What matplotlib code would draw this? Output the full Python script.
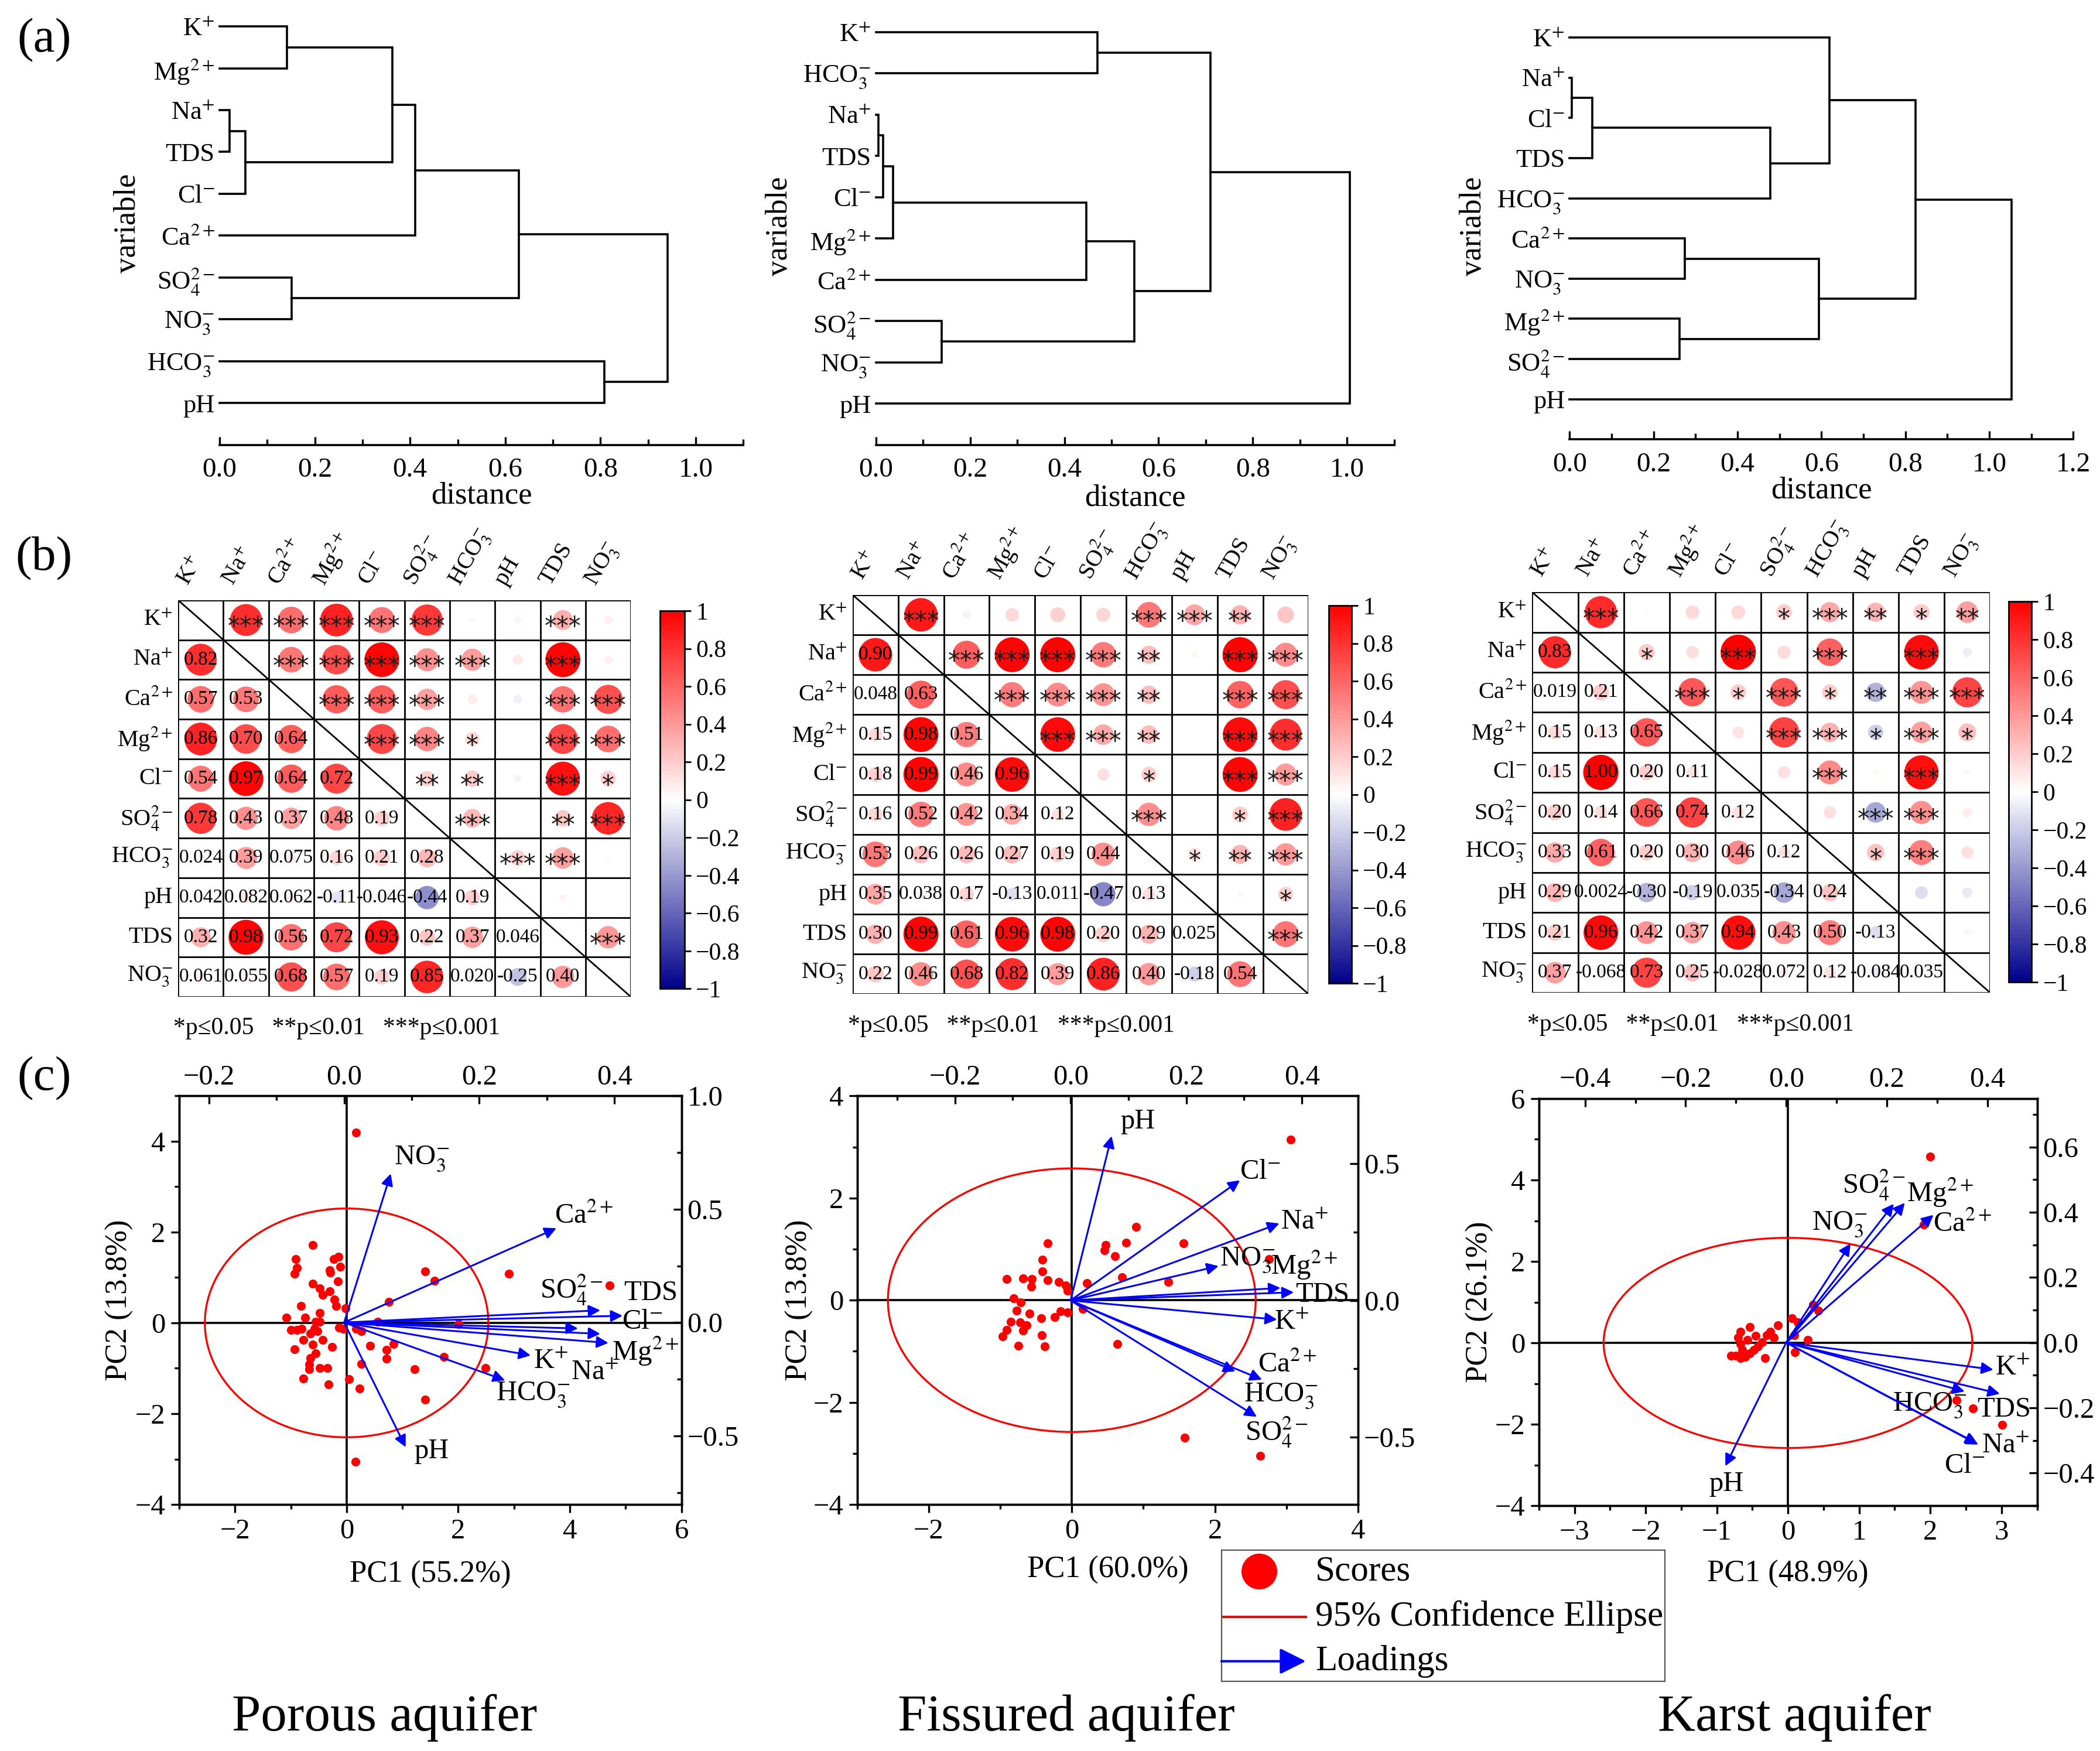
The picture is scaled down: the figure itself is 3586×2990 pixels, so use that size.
import numpy as np
import matplotlib
matplotlib.use('Agg')
import matplotlib.pyplot as plt
from matplotlib.colors import LinearSegmentedColormap, Normalize
from matplotlib.cm import ScalarMappable
from matplotlib.patches import Ellipse
from matplotlib.ticker import MultipleLocator, FuncFormatter

plt.rcParams['font.family'] = ['Liberation Serif', 'DejaVu Serif']
plt.rcParams['mathtext.fontset'] = 'stix'
plt.rcParams['axes.linewidth'] = 1.2

# ---------------- variables ----------------
variables = ['K', 'Na', 'Ca', 'Mg', 'Cl', 'SO4', 'HCO3', 'pH', 'TDS', 'NO3']
tex = {'K': r'K$^{+}$', 'Na': r'Na$^{+}$', 'Ca': r'Ca$^{2+}$', 'Mg': r'Mg$^{2+}$',
       'Cl': r'Cl$^{-}$', 'SO4': r'SO$_{4}^{2-}$', 'HCO3': r'HCO$_{3}^{-}$',
       'pH': 'pH', 'TDS': 'TDS', 'NO3': r'NO$_{3}^{-}$'}

# ---------------- (a) cluster trees: leaf order, merges (a, b, distance) ----------------
porous_leaves = ['K', 'Mg', 'Na', 'TDS', 'Cl', 'Ca', 'SO4', 'NO3', 'HCO3', 'pH']
porous_merges = [(2, 3, 0.021), (10, 4, 0.054), (0, 1, 0.141), (6, 7, 0.151),
                 (12, 11, 0.363), (14, 5, 0.411), (15, 13, 0.629), (8, 9, 0.808),
                 (16, 17, 0.941)]
fissured_leaves = ['K', 'HCO3', 'Na', 'TDS', 'Cl', 'Mg', 'Ca', 'SO4', 'NO3', 'pH']
fissured_merges = [(2, 3, 0.005), (10, 4, 0.015), (11, 5, 0.037), (7, 8, 0.140),
                   (12, 6, 0.447), (0, 1, 0.470), (14, 13, 0.549), (15, 16, 0.710),
                   (17, 9, 1.006)]
karst_leaves = ['K', 'Na', 'Cl', 'TDS', 'HCO3', 'Ca', 'NO3', 'Mg', 'SO4', 'pH']
karst_merges = [(1, 2, 0.005), (10, 3, 0.054), (7, 8, 0.262), (5, 6, 0.275),
                (11, 4, 0.478), (13, 12, 0.594), (0, 14, 0.619), (16, 15, 0.824),
                (17, 9, 1.053)]

# ---------------- (b) correlations: lower triangle r, upper triangle stars ----------------
porous_r = [
    [],
    [0.82],
    [0.57, 0.53],
    [0.86, 0.70, 0.64],
    [0.54, 0.97, 0.64, 0.72],
    [0.78, 0.43, 0.37, 0.48, 0.19],
    [0.024, 0.39, 0.075, 0.16, 0.21, 0.28],
    [0.042, 0.082, 0.062, -0.11, -0.046, -0.44, 0.19],
    [0.32, 0.98, 0.56, 0.72, 0.93, 0.22, 0.37, 0.046],
    [0.061, 0.055, 0.68, 0.57, 0.19, 0.85, 0.020, -0.25, 0.40],
]
porous_stars = [
    [3, 3, 3, 3, 3, 0, 0, 3, 0],
    [3, 3, 3, 3, 3, 0, 3, 0],
    [3, 3, 3, 0, 0, 3, 3],
    [3, 3, 1, 0, 3, 3],
    [2, 2, 0, 3, 1],
    [3, 0, 2, 3],
    [3, 3, 0],
    [0, 0],
    [3],
]
# upper-triangle circles that differ from the lower triangle (row, col, r)
porous_upper = [('Ca', 'pH', -0.06), ('Mg', 'pH', 0.0), ('SO4', 'pH', 0.0), ('pH', 'NO3', 0.0)]

fissured_r = [
    [],
    [0.90],
    [0.048, 0.63],
    [0.15, 0.98, 0.51],
    [0.18, 0.99, 0.46, 0.96],
    [0.16, 0.52, 0.42, 0.34, 0.12],
    [0.53, 0.26, 0.26, 0.27, 0.19, 0.44],
    [0.35, 0.038, 0.17, -0.13, 0.011, -0.47, 0.13],
    [0.30, 0.99, 0.61, 0.96, 0.98, 0.20, 0.29, 0.025],
    [0.22, 0.46, 0.68, 0.82, 0.39, 0.86, 0.40, -0.18, 0.54],
]
fissured_stars = [
    [3, 0, 0, 0, 0, 3, 3, 2, 0],
    [3, 3, 3, 3, 2, 0, 3, 3],
    [3, 3, 3, 2, 0, 3, 3],
    [3, 3, 2, 0, 3, 3],
    [0, 1, 0, 3, 3],
    [3, 0, 1, 3],
    [1, 2, 3],
    [0, 1],
    [3],
]
fissured_upper = [('Ca', 'pH', 0.0), ('Mg', 'pH', 0.0), ('SO4', 'pH', 0.0), ('pH', 'NO3', 0.18)]

karst_r = [
    [],
    [0.83],
    [0.019, 0.21],
    [0.15, 0.13, 0.65],
    [0.15, 1.00, 0.20, 0.11],
    [0.20, 0.14, 0.66, 0.74, 0.12],
    [0.33, 0.61, 0.20, 0.30, 0.46, 0.12],
    [0.29, 0.0024, -0.30, -0.19, 0.035, -0.34, 0.24],
    [0.21, 0.96, 0.42, 0.37, 0.94, 0.43, 0.50, -0.13],
    [0.37, -0.068, 0.73, 0.25, -0.028, 0.072, 0.12, -0.084, 0.035],
]
karst_stars = [
    [3, 0, 0, 0, 1, 3, 2, 1, 2],
    [1, 0, 3, 0, 3, 0, 3, 0],
    [3, 1, 3, 1, 2, 3, 3],
    [0, 3, 3, 1, 3, 1],
    [0, 3, 0, 3, 0],
    [0, 3, 3, 0],
    [1, 3, 0],
    [0, 0],
    [0],
]
karst_upper = []

# ---------------- (c) PCA: scores, loadings (order = variables), ellipse semi-axes ----------------
porous_pc1 = [0.17, -0.61, -0.91, -0.89, -0.93, -0.23, -0.15, -0.11, -0.30, -0.29, -0.61,
              -0.48, -0.43, -0.16, -0.30, -0.22, -0.19, -0.02, -0.82, -0.48, -1.08, -0.74,
              -1.00, -0.89, -0.81, -0.56, -0.48, -0.58, -0.52, -0.65, -0.43, -0.78, -0.93,
              -0.61, -0.26, -0.56, -0.65, -0.67, -0.67, -0.48, -0.35, -0.77, -0.32, -0.13,
              -0.06, 0.17, 0.26, 0.56, 0.76, 1.41, 1.58, 2.91, 4.71, 2.01, 0.42, 0.84,
              0.72, 0.71, 0.26, 0.04, 0.23, 1.22, 1.74, 2.49, 1.41, 0.16]
porous_pc2 = [4.19, 1.71, 1.41, 1.21, 1.08, 1.41, 1.46, 1.24, 1.16, 1.11, 0.86,
              0.76, 0.62, 0.91, 0.69, 0.52, 0.37, 0.32, 0.37, 0.22, 0.12, 0.12,
              -0.15, -0.15, -0.13, 0.02, 0.02, -0.13, -0.18, -0.23, -0.38, -0.38, -0.58,
              -0.48, -0.53, -0.67, -0.77, -0.92, -1.02, -0.99, -0.99, -1.22, -1.35, -0.10,
              -0.13, -0.13, -0.18, 0.02, 0.47, 1.14, 0.93, 1.08, 0.83, -0.03, -0.51, -0.46,
              -0.60, -0.79, -0.90, -1.24, -1.44, -1.02, -0.75, -0.99, -1.69, -3.06]
porous_load1 = [0.276, 0.379, 0.314, 0.391, 0.346, 0.379, 0.238, 0.091, 0.412, 0.069]
porous_load2 = [-0.145, -0.050, 0.416, -0.090, -0.026, 0.054, -0.255, -0.550, 0.030, 0.657]
porous_ellipse = [2.54, 2.52]

fissured_pc1 = [3.06, 0.90, 1.56, 0.76, 0.47, 0.46, 0.60, 2.76, 0.70, 1.35, 0.21,
                -0.34, -0.41, -0.41, -0.34, -0.91, -0.68, -0.56, -0.57, -0.18, -0.08, -0.06,
                -0.81, -0.71, -0.77, -0.59, -0.85, -0.72, -0.63, -0.68, -0.43, -0.24, -0.16,
                -0.06, 0.15, -0.91, -0.97, -0.42, -0.75, -0.38, 0.64, 1.58, 2.63]
fissured_pc2 = [3.14, 1.43, 1.11, 1.13, 1.08, 0.98, 0.86, 0.81, 0.45, 0.36, 0.34,
                1.11, 0.79, 0.56, 0.39, 0.41, 0.43, 0.41, 0.27, 0.36, 0.29, 0.19,
                0.04, -0.04, -0.20, -0.26, -0.42, -0.43, -0.49, -0.59, -0.35, -0.33, -0.22,
                -0.24, -0.17, -0.58, -0.71, -0.68, -0.89, -0.90, -0.86, -2.69, -3.05]
fissured_load1 = [0.357, 0.361, 0.285, 0.363, 0.293, 0.322, 0.331, 0.071, 0.386, 0.256]
fissured_load2 = [-0.070, 0.282, -0.260, 0.046, 0.440, -0.426, -0.290, 0.602, 0.030, 0.126]
fissured_ellipse = [2.57, 2.58]

karst_pc1 = [2.00, 1.91, 0.35, 0.43, 0.06, 0.14, 0.09, 0.28, 0.10, -0.14, -0.25,
             -0.30, -0.54, -0.67, -0.36, -0.42, -0.48, -0.54, -0.67, -0.64, -0.73, -0.80,
             -0.60, -0.67, -0.32, -0.57, -0.70, 2.37, 2.60, 3.01, -0.45, -0.20]
karst_pc2 = [4.58, 2.91, 0.94, 0.80, 0.61, 0.50, 0.19, 0.08, -0.23, 0.43, 0.28,
             0.19, 0.39, 0.28, 0.02, -0.09, -0.17, -0.26, -0.03, -0.17, -0.31, -0.31,
             -0.34, -0.37, -0.37, 0.08, 0.13, -1.40, -1.61, -2.01, 0.17, 0.13]
karst_load1 = [0.412, 0.382, 0.293, 0.236, 0.380, 0.214, 0.355, -0.121, 0.425, 0.128]
karst_load2 = [-0.083, -0.313, 0.392, 0.429, -0.310, 0.426, -0.150, -0.379, -0.157, 0.304]
karst_ellipse = [2.59, 2.58]

# loading label placement (score units)
porous_labpos = {'NO3': (1.34, 3.61), 'Ca': (4.25, 2.35), 'SO4': (4.03, 0.73), 'TDS': (5.45, 0.66),
                 'Cl': (5.3, 0.03), 'Mg': (5.35, -0.62), 'K': (3.66, -0.85), 'Na': (4.45, -1.1),
                 'HCO3': (3.34, -1.59), 'pH': (1.52, -2.83)}
fissured_labpos = {'pH': (0.92, 3.50), 'Cl': (2.63, 2.51), 'Na': (3.25, 1.53), 'NO3': (2.45, 0.78),
                   'Mg': (3.25, 0.69), 'TDS': (3.50, 0.10), 'K': (3.07, -0.43), 'Ca': (3.01, -1.26),
                   'HCO3': (2.92, -1.88), 'SO4': (2.86, -2.59)}
karst_labpos = {'NO3': (0.72, 2.91), 'SO4': (1.21, 3.88), 'Mg': (2.14, 3.69), 'Ca': (2.45, 2.91),
                'K': (3.16, -0.61), 'HCO3': (1.99, -1.53), 'TDS': (3.04, -1.64), 'Na': (3.06, -2.53),
                'Cl': (2.48, -3.01), 'pH': (-0.87, -3.46)}

# ---------------- layout helpers ----------------
W, H = 1568.0, 1307.0


def rect(x0, y0, x1, y1):
    return [x0 / W, 1 - y1 / H, (x1 - x0) / W, (y1 - y0) / H]


fig = plt.figure(figsize=(17.93, 14.95), dpi=200)
cmap = LinearSegmentedColormap.from_list('bwr2', ['#00008B', '#FFFFFF', '#FF0000'])
norm = Normalize(-1, 1)


def dec1(v, p=None):
    if abs(v) < 1e-9:
        v = 0.0
    return f'{v:.1f}'.replace('-', '\u2212')


def draw_tree(r, leaves, merges, xmax, ylab_x, xlab_y):
    ax = fig.add_axes(r)
    n = len(leaves)
    pos = {i: float(i) for i in range(n)}
    hgt = {i: 0.0 for i in range(n)}
    k = n
    for a, b, h in merges:
        ax.plot([hgt[a], h, h, hgt[b]], [pos[a], pos[a], pos[b], pos[b]],
                color='black', lw=1.3, clip_on=False, solid_joinstyle='miter')
        pos[k] = (pos[a] + pos[b]) / 2
        hgt[k] = h
        k += 1
    ax.set_xlim(0, xmax)
    ax.set_ylim(n, -0.6)
    ax.set_yticks(range(n))
    ax.set_yticklabels([tex[v] for v in leaves])
    ax.tick_params(axis='y', length=0, pad=3, labelsize=16)
    for s in ['left', 'right', 'top']:
        ax.spines[s].set_visible(False)
    ax.spines['bottom'].set_linewidth(1.3)
    ax.xaxis.set_major_locator(MultipleLocator(0.2))
    ax.xaxis.set_minor_locator(MultipleLocator(0.1))
    ax.xaxis.set_major_formatter(FuncFormatter(dec1))
    ax.tick_params(axis='x', which='major', direction='in', length=5, width=1.2, labelsize=17, pad=8)
    ax.tick_params(axis='x', which='minor', direction='in', length=3.5, width=1.2)
    ax.set_ylabel('variable', fontsize=19, va='center')
    ax.yaxis.set_label_coords(ylab_x, 0.5)
    ax.set_xlabel('distance', fontsize=19, va='center')
    ax.xaxis.set_label_coords(0.5, xlab_y)


def rfmt(v):
    a = abs(v)
    if a >= 0.1:
        return f'{v:.2f}'
    d = int(-np.floor(np.log10(a))) + 1
    return f'{v:.{d}f}'


def cbfmt(v, p=None):
    if abs(v) < 1e-9:
        return '0'
    if abs(abs(v) - 1) < 1e-9:
        return ('\u22121' if v < 0 else '1')
    return dec1(v)


def draw_corr(r, cr, lower, stars, upper_fix):
    ax = fig.add_axes(r)
    n = len(variables)
    R = np.eye(n)
    for i, row in enumerate(lower):
        for j, v in enumerate(row):
            R[i, j] = R[j, i] = v
    for a, b, v in upper_fix:
        R[variables.index(a), variables.index(b)] = v
    S = np.zeros((n, n), dtype=int)
    for i, row in enumerate(stars):
        for k, s in enumerate(row):
            S[i, i + 1 + k] = s
    ii, jj = np.meshgrid(np.arange(n), np.arange(n), indexing='ij')
    off = ii != jj
    ax.scatter(jj[off] + 0.5, ii[off] + 0.5, s=470 * np.abs(R[off]), c=R[off],
               cmap=cmap, norm=norm, linewidths=0, zorder=2)
    for i in range(n):
        for j in range(n):
            if i > j:
                ax.text(j + 0.5, i + 0.5, rfmt(R[i, j]), ha='center', va='center',
                        fontsize=12, zorder=3)
            elif j > i and S[i, j] > 0:
                ax.text(j + 0.5, i + 0.68, '*' * S[i, j], ha='center', va='center',
                        fontsize=15, family='DejaVu Sans', zorder=3, color='#1a1a1a')
    ax.hlines(np.arange(n + 1), 0, n, color='black', lw=1.0, zorder=4)
    ax.vlines(np.arange(n + 1), 0, n, color='black', lw=1.0, zorder=4)
    ax.plot([0, n], [0, n], color='black', lw=1.0, zorder=4)
    for i, v in enumerate(variables):
        ax.text(-0.12, i + 0.5, tex[v], ha='right', va='center', fontsize=14.5)
        ax.text(i + 0.22, -0.35, tex[v], rotation=60, ha='left', va='baseline',
                rotation_mode='anchor', fontsize=14.5)
    ax.text(-0.1, n + 0.8, '*p≤0.05   **p≤0.01   ***p≤0.001',
            ha='left', va='center', fontsize=15)
    ax.set_xlim(0, n)
    ax.set_ylim(n, 0)
    ax.axis('off')
    cax = fig.add_axes(cr)
    cb = fig.colorbar(ScalarMappable(norm=norm, cmap=cmap), cax=cax,
                      ticks=np.linspace(-1, 1, 11))
    cb.ax.yaxis.set_major_formatter(FuncFormatter(cbfmt))
    cb.ax.tick_params(labelsize=15, length=4, width=1.0, pad=3)
    cb.outline.set_linewidth(1.0)


def draw_pca(r, pc1, pc2, l1, l2, ell, labpos, xlim, ylim, lxlim, lylim,
             xstep, ystep, lxstep, lystep, xlabel, ylabel, ylab_x, xlab_y):
    ax = fig.add_axes(r)
    ax.axhline(0, color='black', lw=1.3, zorder=1)
    ax.axvline(0, color='black', lw=1.3, zorder=1)
    ax.add_patch(Ellipse((0, 0), 2 * ell[0], 2 * ell[1], fill=False, edgecolor='red', lw=1.2, zorder=2))
    ax.scatter(pc1, pc2, s=30, color='red', linewidths=0, zorder=3)
    ax.set_xlim(*xlim)
    ax.set_ylim(*ylim)
    ax.xaxis.set_major_locator(MultipleLocator(xstep))
    ax.xaxis.set_minor_locator(MultipleLocator(xstep / 2))
    ax.yaxis.set_major_locator(MultipleLocator(ystep))
    ax.yaxis.set_minor_locator(MultipleLocator(ystep / 2))
    ax.tick_params(which='major', direction='out', length=5, width=1.2, labelsize=17.5)
    ax.tick_params(which='minor', direction='out', length=3, width=1.2)
    for v in variables:
        ax.text(labpos[v][0], labpos[v][1], tex[v], ha='center', va='center', fontsize=17.5, zorder=5)
    ax.set_xlabel(xlabel, fontsize=19, va='center')
    ax.xaxis.set_label_coords(0.5, xlab_y)
    ax.set_ylabel(ylabel, fontsize=19, va='center')
    ax.yaxis.set_label_coords(ylab_x, 0.5)

    axr = ax.twinx()
    axr.set_ylim(*lylim)
    axr.yaxis.set_major_locator(MultipleLocator(lystep))
    axr.yaxis.set_minor_locator(MultipleLocator(lystep / 2))
    axr.yaxis.set_major_formatter(FuncFormatter(dec1))
    axr.tick_params(which='major', direction='in', length=5, width=1.2, labelsize=17.5)
    axr.tick_params(which='minor', direction='in', length=3, width=1.2)

    axt = axr.twiny()
    axt.set_xlim(*lxlim)
    axt.xaxis.set_major_locator(MultipleLocator(lxstep))
    axt.xaxis.set_minor_locator(MultipleLocator(lxstep / 2))
    axt.xaxis.set_major_formatter(FuncFormatter(dec1))
    axt.tick_params(which='major', direction='in', length=5, width=1.2, labelsize=17.5)
    axt.tick_params(which='minor', direction='in', length=3, width=1.2)
    for x, y in zip(l1, l2):
        axt.annotate('', xy=(x, y), xytext=(0, 0),
                     arrowprops=dict(arrowstyle='-|>', color='blue', lw=1.1,
                                     mutation_scale=15, shrinkA=0, shrinkB=0))


# ---------------- row (a) ----------------
draw_tree(rect(164, 1, 555, 332), porous_leaves, porous_merges, 1.1, -0.176, -0.115)
draw_tree(rect(654, 5.5, 1041, 332), fissured_leaves, fissured_merges, 1.1, -0.186, -0.122)
draw_tree(rect(1172, 10, 1548, 328), karst_leaves, karst_merges, 1.2, -0.191, -0.12)

# ---------------- row (b) ----------------
draw_corr(rect(133, 448, 471, 744), rect(493, 456, 511, 738), porous_r, porous_stars, porous_upper)
draw_corr(rect(636.6, 444, 977, 742), rect(992, 452, 1009, 734), fissured_r, fissured_stars, fissured_upper)
draw_corr(rect(1144, 442, 1486, 741), rect(1500, 449, 1517, 733), karst_r, karst_stars, karst_upper)

# ---------------- row (c) ----------------
draw_pca(rect(133.8, 818, 508.8, 1123), porous_pc1, porous_pc2, porous_load1, porous_load2,
         porous_ellipse, porous_labpos, (-3, 6), (-4, 5), (-0.244, 0.499), (-0.803, 1.0),
         2, 2, 0.2, 0.5, 'PC1 (55.2%)', 'PC2 (13.8%)', -0.119, -0.172)
draw_pca(rect(640, 818, 1014, 1123), fissured_pc1, fissured_pc2, fissured_load1, fissured_load2,
         fissured_ellipse, fissured_labpos, (-3, 4), (-4, 4), (-0.369, 0.497), (-0.747, 0.749),
         2, 2, 0.2, 0.5, 'PC1 (60.0%)', 'PC2 (13.8%)', -0.115, -0.161)
draw_pca(rect(1149, 820, 1521, 1124), karst_pc1, karst_pc2, karst_load1, karst_load2,
         karst_ellipse, karst_labpos, (-3.5, 3.5), (-4, 6), (-0.492, 0.499), (-0.501, 0.749),
         1, 2, 0.2, 0.2, 'PC1 (48.9%)', 'PC2 (26.1%)', -0.118, -0.167)

# ---------------- legend ----------------
lg = fig.add_axes(rect(912, 1157, 1243, 1255))
lg.set_xlim(0, 331)
lg.set_ylim(98, 0)
lg.set_xticks([])
lg.set_yticks([])
for s in lg.spines.values():
    s.set_linewidth(0.8)
    s.set_edgecolor('#555555')
lg.plot([28], [16], 'o', color='red', markersize=21)
lg.plot([0, 63], [50, 50], color='red', lw=1.5)
lg.annotate('', xy=(63, 83), xytext=(0, 83),
            arrowprops=dict(arrowstyle='-|>', color='blue', lw=1.5, mutation_scale=34,
                            shrinkA=0, shrinkB=0))
lg.text(70, 16, 'Scores', va='center', fontsize=22)
lg.text(70, 50, '95% Confidence Ellipse', va='center', fontsize=22)
lg.text(70, 83, 'Loadings', va='center', fontsize=22)

# ---------------- panel letters and titles ----------------
fig.text(33 / W, 1 - 30 / H, '(a)', fontsize=30, ha='center', va='center')
fig.text(33 / W, 1 - 417 / H, '(b)', fontsize=30, ha='center', va='center')
fig.text(33 / W, 1 - 805 / H, '(c)', fontsize=30, ha='center', va='center')
fig.text(287 / W, 1 - 1282 / H, 'Porous aquifer', fontsize=32, ha='center', va='center')
fig.text(796 / W, 1 - 1282 / H, 'Fissured aquifer', fontsize=32, ha='center', va='center')
fig.text(1340 / W, 1 - 1282 / H, 'Karst aquifer', fontsize=32, ha='center', va='center')

fig.savefig('out.png', dpi=200)
